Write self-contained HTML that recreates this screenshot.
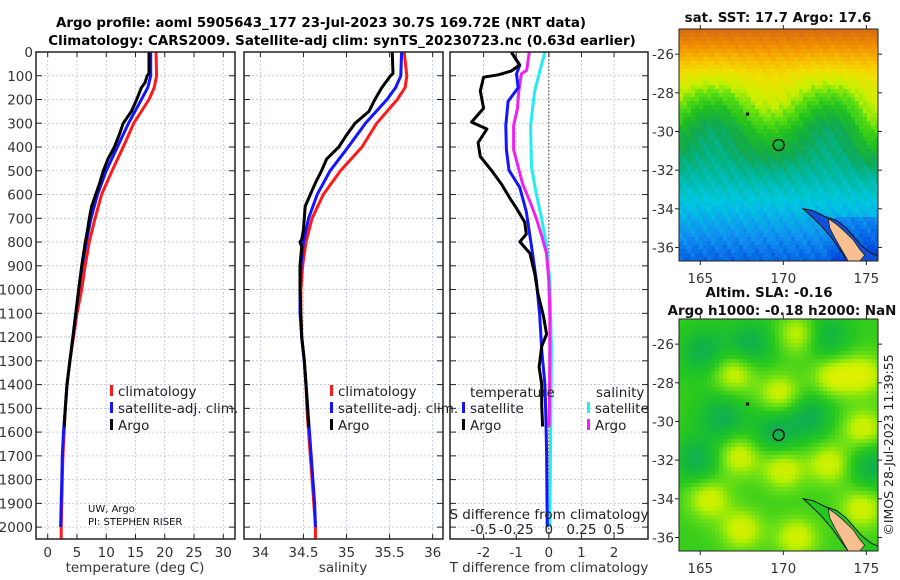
<!DOCTYPE html>
<html><head><meta charset="utf-8">
<style>
html,body{margin:0;padding:0;background:#fff;}
svg{display:block;font-family:"DejaVu Sans","Liberation Sans",sans-serif;}
</style></head>
<body>
<svg id="fig" width="900" height="580" viewBox="0 0 900 580" xmlns="http://www.w3.org/2000/svg">
<text x="321" y="27" text-anchor="middle" font-size="13.4" font-weight="bold">Argo profile: aoml 5905643_177 23-Jul-2023 30.7S 169.72E (NRT data)</text>
<text x="342" y="45" text-anchor="middle" font-size="13.4" font-weight="bold">Climatology: CARS2009. Satellite-adj clim: synTS_20230723.nc (0.63d earlier)</text>
<g id="panels"></g>
<g id="maps"></g>
<text transform="translate(893,445) rotate(-90)" text-anchor="middle" font-size="12.5" fill="#222">©IMOS 28-Jul-2023 11:39:55</text>
</svg>
<script>
// ---------- data ----------
const depthTicks = [0,100,200,300,400,500,600,700,800,900,1000,1100,1200,1300,1400,1500,1600,1700,1800,1900,2000];
const tTicks = [0,5,10,15,20,25,30];
const sTicks = [34,34.5,35,35.5,36];
const dTicks = [-2,-1,0,1,2];
const dsTicks = [-0.5,-0.25,0,0.25,0.5];
const dsTickLabels = ["-0.5","-0.25","0","0.25","0.5"];

const climDepth = [0,100,150,200,300,400,500,600,700,800,900,1000,1100,1200,1300,1400,1500,1600,1700,1800,1900,2000,2050];
const climT = [18.5,18.6,18.2,17.3,14.7,12.9,11.0,9.2,8.1,7.1,6.4,5.8,5.0,4.4,3.8,3.3,3.0,2.8,2.6,2.5,2.4,2.3,2.3];
const climS = [35.67,35.70,35.68,35.59,35.35,35.18,34.93,34.73,34.60,34.53,34.49,34.47,34.47,34.48,34.51,34.53,34.54,34.56,34.58,34.60,34.62,34.64,34.64];

const satDepth = [0,100,150,200,300,400,500,600,700,800,900,1000,1100,1200,1300,1400,1500,1600,1700,1800,1900,2000];
const satT = [17.6,17.6,17.1,16.0,13.8,11.9,10.0,8.5,7.4,6.6,5.9,5.3,4.8,4.3,3.8,3.3,3.0,2.7,2.5,2.4,2.3,2.2];
const satS = [35.64,35.63,35.57,35.47,35.22,35.02,34.81,34.66,34.56,34.50,34.47,34.46,34.46,34.48,34.51,34.53,34.55,34.57,34.59,34.61,34.63,34.64];

const argoDepth = [0,90,100,130,150,200,250,300,350,400,450,500,550,600,650,700,750,790,800,820,900,1000,1100,1200,1300,1400,1500,1580];
const argoT = [17.3,17.3,17.0,16.6,16.0,15.2,14.3,12.9,12.2,11.4,10.3,9.5,8.9,8.2,7.5,7.1,6.8,6.5,6.4,6.3,5.8,5.3,4.8,4.3,3.8,3.3,3.0,2.8];
const argoS = [35.53,35.54,35.51,35.45,35.41,35.33,35.26,35.10,35.00,34.91,34.77,34.71,34.64,34.58,34.52,34.51,34.50,34.48,34.46,34.48,34.46,34.46,34.47,34.48,34.51,34.53,34.55,34.56];

const dTArgoDepth = [0,55,80,96,106,164,237,295,324,382,440,498,556,614,658,716,767,799,847,934,1021,1108,1188,1239,1326,1399,1486,1577];
const dTArgo = [-1.15,-0.9,-1.15,-1.55,-2.0,-2.1,-2.0,-2.37,-1.9,-2.17,-2.1,-1.76,-1.45,-1.2,-0.99,-0.74,-0.69,-0.89,-0.58,-0.43,-0.33,-0.17,-0.07,-0.22,-0.3,-0.22,-0.22,-0.19];
const dTSatDepth = [0,55,92,150,208,309,411,498,571,672,818,963,1108,1253,1399,1544,1689,1980,2000];
const dTSat = [-1.15,-0.89,-0.99,-0.94,-1.25,-1.32,-1.3,-1.22,-0.89,-0.69,-0.53,-0.38,-0.28,-0.22,-0.12,-0.09,-0.07,-0.05,-0.05];
const dSArgoDepth = [0,77,92,164,237,309,411,484,556,629,701,774,847,963,1108,1253,1577];
const dSArgo = [-0.15,-0.17,-0.21,-0.23,-0.24,-0.27,-0.27,-0.235,-0.2,-0.145,-0.095,-0.055,-0.018,0,0.008,0.008,0.003];
const dSSatDepth = [0,92,164,309,484,600,701,818,963,1253,1544,1980,2000];
const dSSat = [-0.03,-0.075,-0.108,-0.14,-0.133,-0.095,-0.055,-0.018,0.008,0.02,0.015,0.008,0.008];

// ---------- helpers ----------
const NS = "http://www.w3.org/2000/svg";
function mk(tag, attrs, parent, txt){
  const e = document.createElementNS(NS, tag);
  for (const k in attrs) e.setAttribute(k, attrs[k]);
  if (txt !== undefined) e.textContent = txt;
  parent.appendChild(e); return e;
}
const Y0 = 52, Y1 = 539, DMAX = 2050;
const yD = d => Y0 + d/DMAX*(Y1-Y0);
function xScale(x0,x1,a,b){ return v => x0 + (v-a)/(b-a)*(x1-x0); }

const panelsG = document.getElementById('panels');
const P = [
  {x0:36,x1:235,a:-2,b:32,name:'temperature'},
  {x0:244,x1:443,a:33.81,b:36.12,name:'salinity'},
  {x0:450,x1:648,a:-3.03,b:3.04,name:'difference'}
];
P.forEach(p=>{ p.sx = xScale(p.x0,p.x1,p.a,p.b); });

function drawGrid(p, xt){
  const g = mk('g',{},panelsG);
  
  
  depthTicks.forEach(d=>{
    mk('line',{x1:p.x0,x2:p.x1,y1:yD(d),y2:yD(d),stroke:'#b8bfe0','stroke-width':0.8,'stroke-dasharray':'2,2'},g);
  });
  xt.forEach(v=>{
    mk('line',{x1:p.sx(v),x2:p.sx(v),y1:Y0,y2:Y1,stroke:'#b8bfe0','stroke-width':0.8,'stroke-dasharray':'2,2'},g);
  });
}
function drawFrame(p, xt, labels){
  const g = mk('g',{},panelsG);
  
  
  depthTicks.forEach(d=>{
    mk('line',{x1:p.x0,x2:p.x0+6,y1:yD(d),y2:yD(d),stroke:'#222','stroke-width':1},g);
    mk('line',{x1:p.x1-6,x2:p.x1,y1:yD(d),y2:yD(d),stroke:'#222','stroke-width':1},g);
  });
  xt.forEach((v,i)=>{
    mk('line',{x1:p.sx(v),x2:p.sx(v),y1:Y1,y2:Y1-5,stroke:'#222','stroke-width':1},g);
    mk('line',{x1:p.sx(v),x2:p.sx(v),y1:Y0,y2:Y0+5,stroke:'#222','stroke-width':1},g);
    const t = mk('text',{x:p.sx(v),y:557,'text-anchor':'middle','font-size':13.5,fill:'#333'},g, labels ? labels[i] : String(v));
    
    
  });
  mk('rect',{x:p.x0,y:Y0,width:p.x1-p.x0,height:Y1-Y0,fill:'none',stroke:'#222','stroke-width':1.5},g);
}
function line(p, depths, vals, color, name, w, mult){
  const m = mult || 1;
  const pts = depths.map((d,i)=> p.sx(vals[i]*m).toFixed(1)+','+yD(d).toFixed(1)).join(' ');
  const l = mk('polyline',{points:pts,fill:'none',stroke:color,'stroke-width':w||3,'stroke-linejoin':'round'},panelsG);
  
  
}
function legendRow(x, y, color, label, name){
  const g = mk('g',{},panelsG);
  
  
  mk('rect',{x:x,y:y-7,width:3,height:11,fill:color},g);
  mk('text',{x:x+8,y:y+4,'font-size':13.5,fill:'#222'},g,label);
}

drawGrid(P[0], tTicks);
drawGrid(P[1], sTicks);
drawGrid(P[2], dTicks);

depthTicks.forEach(d=>{
  const t = mk('text',{x:33,y:yD(d)+5,'text-anchor':'end','font-size':13.5,fill:'#333'},panelsG,String(d));
  
  
});

line(P[0], climDepth, climT, '#ff1a1a', 'temperature-climatology-line');
line(P[0], satDepth, satT, '#1414ff', 'temperature-satellite-line');
line(P[0], argoDepth, argoT, '#000', 'temperature-argo-line');
line(P[1], climDepth, climS, '#ff1a1a', 'salinity-climatology-line');
line(P[1], satDepth, satS, '#1414ff', 'salinity-satellite-line');
line(P[1], argoDepth, argoS, '#000', 'salinity-argo-line');
const zl = mk('line',{x1:P[2].sx(0),x2:P[2].sx(0),y1:Y0,y2:Y1,stroke:'#333','stroke-width':1,'stroke-dasharray':'1.5,2'},panelsG);


line(P[2], dSSatDepth, dSSat, '#22eeee', 'salinity-satellite-difference-line', 3, 4);
line(P[2], dSArgoDepth, dSArgo, '#ee22ee', 'salinity-argo-difference-line', 3, 4);
line(P[2], dTSatDepth, dTSat, '#1414ff', 'temperature-satellite-difference-line', 3);
line(P[2], dTArgoDepth, dTArgo, '#000', 'temperature-argo-difference-line', 3);

drawFrame(P[0], tTicks);
drawFrame(P[1], sTicks);
drawFrame(P[2], dTicks);

dsTicks.forEach((v,i)=>{
  const t = mk('text',{x:P[2].sx(v*4),y:534,'text-anchor':'middle','font-size':13.5,fill:'#222'},panelsG,dsTickLabels[i]);
  
  
});
const st = mk('text',{x:549,y:519,'text-anchor':'middle','font-size':13.5,fill:'#222'},panelsG,'S difference from climatology');



[['temperature (deg C)',135,'temperature-axis-title'],['salinity',343,'salinity-axis-title'],['T difference from climatology',549,'t-difference-axis-title']].forEach(a=>{
  const t = mk('text',{x:a[1],y:572,'text-anchor':'middle','font-size':13.5,fill:'#333'},panelsG,a[0]);
  
  
});

legendRow(110,392,'#ff1a1a','climatology','temp-legend-climatology');
legendRow(110,409,'#1414ff','satellite-adj. clim.','temp-legend-satellite');
legendRow(110,426,'#000','Argo','temp-legend-argo');
legendRow(330,392,'#ff1a1a','climatology','sal-legend-climatology');
legendRow(330,409,'#1414ff','satellite-adj. clim.','sal-legend-satellite');
legendRow(330,426,'#000','Argo','sal-legend-argo');
const lt1 = mk('text',{x:470,y:397,'font-size':13.5,fill:'#222'},panelsG,'temperature');


const lt2 = mk('text',{x:596,y:397,'font-size':13.5,fill:'#222'},panelsG,'salinity');


legendRow(462,409,'#1414ff','satellite','diff-legend-temp-satellite');
legendRow(462,426,'#000','Argo','diff-legend-temp-argo');
legendRow(587,409,'#22eeee','satellite','diff-legend-sal-satellite');
legendRow(587,426,'#ee22ee','Argo','diff-legend-sal-argo');

const pi1 = mk('text',{x:88,y:512,'font-size':10,fill:'#111'},panelsG,'UW, Argo');


const pi2 = mk('text',{x:88,y:525,'font-size':10,fill:'#111'},panelsG,'PI: STEPHEN RISER');



// ---------- maps ----------
const mapsG = document.getElementById('maps');
const LON0 = 163.72, LON1 = 175.7, LAT0 = -24.7, LAT1 = -36.7;
const floatLon = 169.72, floatLat = -30.7;
const coastOuter = [[171.2,-34.0],[171.8,-34.1],[172.5,-34.4],[173.2,-34.6],[173.8,-35.0],[174.3,-35.5],[174.7,-35.9],[175.3,-36.3],[175.7,-36.45],[175.7,-36.7],[173.9,-36.7],[173.4,-36.1],[172.9,-35.5],[172.3,-34.9],[171.7,-34.4]];
const landPoly = [[172.7,-34.5],[173.2,-34.8],[173.6,-35.1],[174.2,-35.6],[174.6,-36.1],[174.9,-36.4],[174.6,-36.7],[173.9,-36.7],[173.5,-36.1],[173.1,-35.5],[172.8,-35.0]];
const slaBlobsHigh = [[167.0,-27.5],[169.8,-28.6],[173.0,-27.7],[174.8,-27.6],[170.0,-32.5],[172.8,-32.2],[165.5,-34.0],[167.3,-31.8],[174.8,-30.4],[167.5,-35.6],[170.8,-36.0],[174.7,-34.5],[171.0,-25.5]];
const slaBlobsLow = [[169.5,-30.5],[166.3,-29.8],[164.8,-32.0],[168.0,-26.0],[172.5,-25.6],[175.3,-32.3],[171.6,-29.7],[165.2,-26.4]];

function makeMap(top, bottom, kind){
  const x0=679, x1=878;
  const sx = xScale(x0,x1,LON0,LON1);
  const sy = v => top + (v-LAT0)/(LAT1-LAT0)*(bottom-top);
  const g = mk('g',{},mapsG);
  
  
  const cell = 4;
  for (let px=x0; px<x1; px+=cell){
    for (let py=top; py<bottom; py+=cell){
      const lon = LON0 + (px+cell/2-x0)/(x1-x0)*(LON1-LON0);
      const lat = LAT0 + (py+cell/2-top)/(bottom-top)*(LAT1-LAT0);
      mk('rect',{x:px,y:py,width:Math.min(cell,x1-px)+0.3,height:Math.min(cell,bottom-py)+0.3,fill: kind==='sst'? sstColor(lon,lat) : slaColor(lon,lat)},g);
    }
  }
  const cp = coastOuter.map(p=>sx(p[0]).toFixed(1)+','+sy(p[1]).toFixed(1)).join(' ');
  mk('polygon',{points:cp,fill: kind==='sst'?'#1050d8':'#22c81e',stroke:'#111','stroke-width':1},g);
  const lp = landPoly.map(p=>sx(p[0]).toFixed(1)+','+sy(p[1]).toFixed(1)).join(' ');
  const land = mk('polygon',{points:lp,fill:'#f8c090',stroke:'#222','stroke-width':0.8},g);
  
  
  mk('rect',{x:sx(167.85)-1.5,y:sy(-29.1)-1.5,width:3,height:3,fill:'#000'},g);
  const c = mk('circle',{cx:sx(floatLon),cy:sy(floatLat),r:5.5,fill:'none',stroke:'#000','stroke-width':1.3},g);
  
  
  mk('rect',{x:x0,y:top,width:x1-x0,height:bottom-top,fill:'none',stroke:'#222','stroke-width':1},g);
  [-26,-28,-30,-32,-34,-36].forEach(v=>{
    mk('line',{x1:x0-4,x2:x0,y1:sy(v),y2:sy(v),stroke:'#222'},g);
    mk('line',{x1:x1,x2:x1+4,y1:sy(v),y2:sy(v),stroke:'#222'},g);
    const t = mk('text',{x:674,y:sy(v)+5,'text-anchor':'end','font-size':13.5,fill:'#333'},g,String(v));
    
    
  });
  [165,170,175].forEach(v=>{
    mk('line',{x1:sx(v),x2:sx(v),y1:bottom,y2:bottom+4,stroke:'#222'},g);
    mk('line',{x1:sx(v),x2:sx(v),y1:top,y2:top-4,stroke:'#222'},g);
    const t = mk('text',{x:sx(v),y:bottom+22,'text-anchor':'middle','font-size':13.5,fill:'#333'},g,String(v));
    
    
  });
}
const sstStops = [[15.6,[0,0,160]],[16.0,[0,80,224]],[16.4,[16,144,240]],[16.8,[0,200,224]],[17.1,[0,184,160]],[17.4,[16,168,80]],[17.8,[32,192,32]],[18.2,[96,224,16]],[18.5,[200,240,0]],[18.9,[240,224,0]],[19.3,[248,192,0]],[19.8,[240,144,0]],[20.3,[216,112,16]]];
function interp(stops,v){
  if (v<=stops[0][0]) return stops[0][1];
  for (let i=1;i<stops.length;i++){
    if (v<=stops[i][0]){
      const f=(v-stops[i-1][0])/(stops[i][0]-stops[i-1][0]);
      return stops[i-1][1].map((c,k)=>Math.round(c+f*(stops[i][1][k]-c)));
    }
  }
  return stops[stops.length-1][1];
}
function rgb(a){return 'rgb('+a.join(',')+')';}
function sstColor(lon,lat){
  let v;
  if (lat > -30) v = 17.6 + (lat+30)*0.42;
  else v = 17.6 + (lat+30)*0.22;
  if (lat > -27.2) v += (lat+27.2)*0.22;
  v += 0.35*Math.sin((lon-167.5)*0.9) * Math.exp(-Math.pow((lat+29.2)/2.0,2));
  v += 0.25*Math.exp(-Math.pow((lon-175.2)/1.0,2))*Math.exp(-Math.pow((lat+30)/1.5,2));
  v += 0.06*Math.sin(lon*7.1+lat*5.3) + 0.05*Math.sin(lon*11.3-lat*9.7);
  if (lat < -34.5 && lon > 172.5) v -= 0.25*Math.min(1,(lon-172.5)/1.0);
  return rgb(interp(sstStops,v));
}
const slaStops = [[-1,[16,160,110]],[-0.5,[20,184,60]],[0,[40,200,30]],[0.45,[110,224,20]],[0.8,[190,240,0]],[1.1,[220,240,0]]];
function slaColor(lon,lat){
  let v = 0.1;
  slaBlobsHigh.forEach(b=>{ v += 0.9*Math.exp(-(Math.pow((lon-b[0])/1.3,2)+Math.pow((lat-b[1])/1.05,2))); });
  slaBlobsLow.forEach(b=>{ v -= 0.8*Math.exp(-(Math.pow((lon-b[0])/1.4,2)+Math.pow((lat-b[1])/1.2,2))); });
  return rgb(interp(slaStops,v));
}
makeMap(29,261,'sst');
makeMap(319,551,'sla');
[['sat. SST: 17.7 Argo: 17.6',778,22,'sst-map-title'],['Altim. SLA: -0.16',769,297,'sla-map-title'],['Argo h1000: -0.18 h2000: NaN',782,315,'sla-map-subtitle']].forEach(a=>{
  const t = mk('text',{x:a[1],y:a[2],'text-anchor':'middle','font-size':13.4,'font-weight':'bold',fill:'#111'},mapsG,a[0]);
  
  
});
</script>
</body></html>
